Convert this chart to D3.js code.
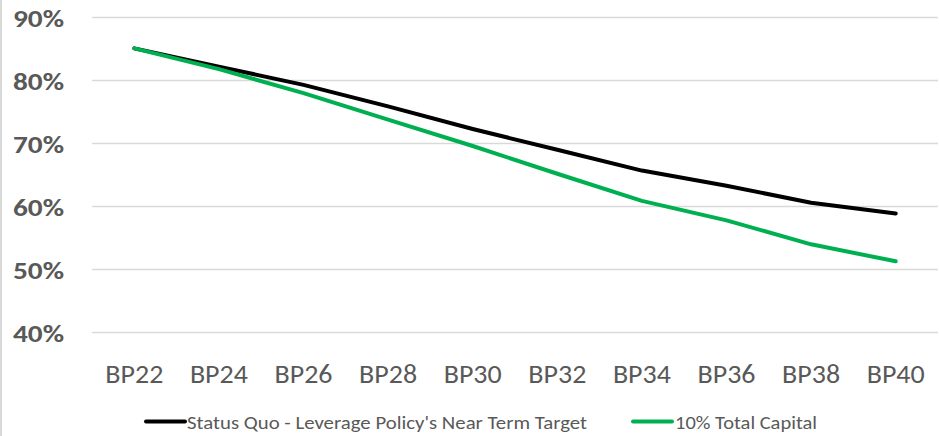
<!DOCTYPE html>
<html>
<head>
<meta charset="utf-8">
<script src="https://cdn.jsdelivr.net/npm/d3@7"></script>
<style>
  html, body { margin: 0; padding: 0; background: #fff; }
  svg { display: block; }
  text { font-family: Carlito, Lato, "Open Sans", sans-serif; }
</style>
</head>
<body>
<svg id="chart" width="939" height="436"></svg>
<script>
const categories = ["BP22","BP24","BP26","BP28","BP30","BP32","BP34","BP36","BP38","BP40"];
const statusQuo = [85.1, 82.2, 79.3, 75.9, 72.3, 69.0, 65.7, 63.3, 60.6, 58.9];
const totalCapital = [85.1, 81.8, 78.0, 73.8, 69.6, 65.2, 60.9, 57.8, 54.0, 51.3];
const yTicks = [40, 50, 60, 70, 80, 90];
const seriesNames = ["Status Quo - Leverage Policy's Near Term Target", "10% Total Capital"];
const seriesColors = ["#000000", "#00b050"];

(function () {
const svg = d3.select("#chart");
const W = 939, H = 436;
const pLeft = 92, pRight = 938, pTop = 17.5, pBottom = 332.5;

const x = d3.scaleBand().domain(categories).range([pLeft, pRight]).padding(0);
const y = d3.scaleLinear().domain([40, 90]).range([pBottom, pTop]);

// left border
svg.append("line").attr("x1", 1).attr("x2", 1).attr("y1", 0).attr("y2", H)
  .attr("stroke", "#d9d9d9").attr("stroke-width", 2);

// gridlines
svg.append("g").selectAll("line").data(yTicks).join("line")
  .attr("x1", pLeft).attr("x2", pRight)
  .attr("y1", d => y(d)).attr("y2", d => y(d))
  .attr("stroke", "#d9d9d9").attr("stroke-width", 1.3);

// y axis labels
const yAxis = d3.axisLeft(y).tickValues(yTicks).tickFormat(d => d + "%").tickSize(0).tickPadding(0);
const gy = svg.append("g").attr("transform", "translate(64,0)").call(yAxis);
gy.select(".domain").remove();
gy.selectAll("text").attr("fill", "#595959").attr("font-weight", "bold")
  .attr("font-size", 24).attr("dy", "0.36em")
  .attr("textLength", 51).attr("lengthAdjust", "spacingAndGlyphs");

// x axis labels
const xAxis = d3.axisBottom(x).tickSize(0).tickPadding(0);
const gx = svg.append("g").attr("transform", "translate(0,383)").call(xAxis);
gx.select(".domain").remove();
gx.selectAll("text").attr("fill", "#595959").attr("font-size", 26.5).attr("dy", 0)
  .attr("textLength", 58).attr("lengthAdjust", "spacingAndGlyphs");

// lines
const line = d3.line()
  .x((d, i) => x(categories[i]) + x.bandwidth() / 2)
  .y(d => y(d));

[statusQuo, totalCapital].forEach((s, k) => {
  svg.append("path").datum(s).attr("d", line)
    .attr("fill", "none").attr("stroke", seriesColors[k])
    .attr("stroke-width", 4).attr("stroke-linecap", "round").attr("stroke-linejoin", "round");
});

// legend
const legendPos = [{lx1: 146, lx2: 185, tx: 187, w: 400}, {lx1: 633, lx2: 672, tx: 675, w: 142}];
const ly = 421.5;
seriesNames.forEach((name, k) => {
  const p = legendPos[k];
  svg.append("line").attr("x1", p.lx1).attr("x2", p.lx2).attr("y1", ly).attr("y2", ly)
    .attr("stroke", seriesColors[k]).attr("stroke-width", 4).attr("stroke-linecap", "round");
  svg.append("text").attr("x", p.tx).attr("y", 428.5).attr("fill", "#595959")
    .attr("font-size", 18.5).attr("textLength", p.w).attr("lengthAdjust", "spacingAndGlyphs")
    .text(name);
});
})();
</script>
</body>
</html>
